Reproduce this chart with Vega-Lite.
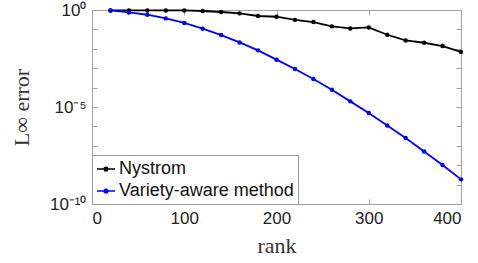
{
  "$schema": "https://vega.github.io/schema/vega-lite/v6.json",
  "width": 369,
  "height": 194,
  "autosize": "none",
  "padding": {"left": 92, "top": 10, "right": 17, "bottom": 59},
  "background": "white",
  "config": {
    "view": {"stroke": "#a0a0a0", "strokeWidth": 1},
    "axis": {
      "labelFont": "Liberation Sans",
      "labelFontSize": 17,
      "labelColor": "#222222",
      "titleFont": "Liberation Serif",
      "titleFontSize": 22,
      "titleFontWeight": "normal",
      "titleColor": "#333333",
      "domainColor": "#a0a0a0",
      "tickColor": "#a0a0a0",
      "tickSize": -5,
      "grid": false
    },
    "legend": {
      "labelFont": "Liberation Sans",
      "labelFontSize": 18,
      "labelColor": "#111111",
      "labelLimit": 0
    }
  },
  "data": {
    "values": [
      {"rank": 20, "method": "Nystrom", "error": 0.95},
      {"rank": 40, "method": "Nystrom", "error": 0.95},
      {"rank": 60, "method": "Nystrom", "error": 0.95},
      {"rank": 80, "method": "Nystrom", "error": 0.95},
      {"rank": 100, "method": "Nystrom", "error": 0.95},
      {"rank": 120, "method": "Nystrom", "error": 0.89},
      {"rank": 140, "method": "Nystrom", "error": 0.79},
      {"rank": 160, "method": "Nystrom", "error": 0.67},
      {"rank": 180, "method": "Nystrom", "error": 0.49},
      {"rank": 200, "method": "Nystrom", "error": 0.45},
      {"rank": 220, "method": "Nystrom", "error": 0.31},
      {"rank": 240, "method": "Nystrom", "error": 0.24},
      {"rank": 260, "method": "Nystrom", "error": 0.143},
      {"rank": 280, "method": "Nystrom", "error": 0.112},
      {"rank": 300, "method": "Nystrom", "error": 0.126},
      {"rank": 320, "method": "Nystrom", "error": 0.053},
      {"rank": 340, "method": "Nystrom", "error": 0.027},
      {"rank": 360, "method": "Nystrom", "error": 0.0205},
      {"rank": 380, "method": "Nystrom", "error": 0.0139},
      {"rank": 400, "method": "Nystrom", "error": 0.0069},
      {"rank": 20, "method": "Variety-aware method", "error": 0.95},
      {"rank": 40, "method": "Variety-aware method", "error": 0.75},
      {"rank": 60, "method": "Variety-aware method", "error": 0.57},
      {"rank": 80, "method": "Variety-aware method", "error": 0.37},
      {"rank": 100, "method": "Variety-aware method", "error": 0.214},
      {"rank": 120, "method": "Variety-aware method", "error": 0.109},
      {"rank": 140, "method": "Variety-aware method", "error": 0.051},
      {"rank": 160, "method": "Variety-aware method", "error": 0.0214},
      {"rank": 180, "method": "Variety-aware method", "error": 0.0083},
      {"rank": 200, "method": "Variety-aware method", "error": 0.00275},
      {"rank": 220, "method": "Variety-aware method", "error": 0.00091},
      {"rank": 240, "method": "Variety-aware method", "error": 0.000275},
      {"rank": 260, "method": "Variety-aware method", "error": 0.000078},
      {"rank": 280, "method": "Variety-aware method", "error": 0.0000195},
      {"rank": 300, "method": "Variety-aware method", "error": 0.0000049},
      {"rank": 320, "method": "Variety-aware method", "error": 0.00000112},
      {"rank": 340, "method": "Variety-aware method", "error": 0.00000025},
      {"rank": 360, "method": "Variety-aware method", "error": 0.000000051},
      {"rank": 380, "method": "Variety-aware method", "error": 0.0000000102},
      {"rank": 400, "method": "Variety-aware method", "error": 0.00000000186}
    ]
  },
  "layer": [
    {
      "mark": {"type": "line", "strokeWidth": 1.8},
      "encoding": {
        "x": {
          "field": "rank",
          "type": "quantitative",
          "scale": {"domain": [0, 400], "nice": false, "zero": false},
          "axis": {"values": [0, 100, 200, 300, 400], "title": "rank", "labelPadding": 11, "titlePadding": 9}
        },
        "y": {
          "field": "error",
          "type": "quantitative",
          "scale": {"type": "log", "domain": [1e-10, 1], "nice": false},
          "axis": {
            "values": [1e-10, 1e-9, 1e-8, 1e-7, 1e-6, 1e-5, 1e-4, 1e-3, 1e-2, 1e-1, 1],
            "labelExpr": "round(log(datum.value)/LN10) == 0 ? '10⁰' : round(log(datum.value)/LN10) == -5 ? '10⁻⁵' : round(log(datum.value)/LN10) == -10 ? '10⁻¹⁰' : ''",
            "title": "L∞ error",
            "labelPadding": 11,
            "titlePadding": 16
          }
        },
        "color": {
          "field": "method",
          "type": "nominal",
          "scale": {"domain": ["Nystrom", "Variety-aware method"], "range": ["#000000", "#0000ff"]},
          "legend": {
            "title": null,
            "orient": "bottom-left",
            "offset": 0,
            "fillColor": "white",
            "strokeColor": "#999999",
            "padding": 4,
            "rowPadding": 3,
            "labelOffset": 3,
            "symbolType": "M-1,0H1M0.2,0A0.2,0.2,0,1,1,-0.2,0A0.2,0.2,0,1,1,0.2,0Z",
            "symbolSize": 324,
            "symbolStrokeWidth": 1.5
          }
        }
      }
    },
    {
      "mark": {"type": "point", "filled": true, "size": 20, "opacity": 1},
      "encoding": {
        "x": {"field": "rank", "type": "quantitative", "axis": null},
        "y": {"field": "error", "type": "quantitative", "axis": null},
        "color": {"field": "method", "type": "nominal"}
      }
    },
    {
      "mark": {"type": "point", "opacity": 0},
      "encoding": {
        "x": {
          "field": "rank",
          "type": "quantitative",
          "axis": {"orient": "top", "values": [0, 100, 200, 300, 400], "labels": false, "title": null, "domain": false}
        },
        "y": {
          "field": "error",
          "type": "quantitative",
          "axis": {
            "orient": "right",
            "values": [1e-10, 1e-9, 1e-8, 1e-7, 1e-6, 1e-5, 1e-4, 1e-3, 1e-2, 1e-1, 1],
            "labels": false,
            "title": null,
            "domain": false
          }
        }
      }
    }
  ],
  "resolve": {"axis": {"x": "independent", "y": "independent"}}
}
